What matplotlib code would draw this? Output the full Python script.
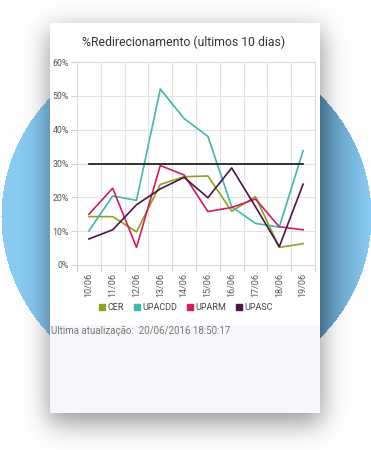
import math
import numpy as np
import matplotlib
matplotlib.use("Agg")
import matplotlib.pyplot as plt
from matplotlib.lines import Line2D

plt.rcParams['font.family'] = ['Roboto', 'DejaVu Sans']

# ---- data ----
dates = ["10/06", "11/06", "12/06", "13/06", "14/06", "15/06", "16/06", "17/06", "18/06", "19/06"]
cer = [14.3, 14.3, 9.8, 23.8, 26.1, 26.3, 15.9, 20.2, 5.2, 6.3]
upacdd = [10.1, 20.4, 19.1, 52.0, 43.3, 38.0, 17.2, 12.3, 11.2, 33.8]
uparm = [15.0, 22.7, 5.2, 29.4, 26.6, 15.8, 17.0, 19.5, 11.3, 10.4]
upasc = [7.7, 10.4, 17.8, 22.5, 25.9, 19.9, 28.7, 17.2, 5.4, 23.9]
meta = 30
series_names = ["CER", "UPACDD", "UPARM", "UPASC"]
series_colors = ["#8fa31c", "#3fb8ae", "#d41b5c", "#4d1448"]
yticks = [0, 10, 20, 30, 40, 50, 60]
title = "%Redirecionamento (ultimos 10 dias)"
footer = "Ultima atualização:  20/06/2016 18:50:17"

W, H = 371, 450
fig = plt.figure(figsize=(W / 100, H / 100), dpi=100)

# ---- background: blue ellipse, card shadow, card ----
yy, xx = np.mgrid[0:H, 0:W].astype(float)
img = np.ones((H, W, 3))
cx, cy, a, b = 186.0, 216.0, 185.0, 176.0
inside = ((xx - cx) / a) ** 2 + ((yy - cy) / b) ** 2 <= 1.0
light = np.array([0.54, 0.80, 0.95])
dark = np.array([0.36, 0.58, 0.72])
t = np.where(xx > 185, np.clip((xx - 320) / 50.0, 0, 1), np.clip((50 - xx) / 50.0, 0, 1))
shade_l = np.where(xx < 185, 0.12, 1.0)
mix = (1 - t) * shade_l
col = light[None, None, :] * (1 - mix[..., None]) + dark[None, None, :] * mix[..., None]
img[inside] = col[inside]

verf = np.vectorize(math.erf)
def box_blur(lo, hi, coords, s):
    return 0.5 * (verf((hi - coords) / (s * 1.414)) - verf((lo - coords) / (s * 1.414)))
sx = box_blur(48, 322, np.arange(W, dtype=float), 12)
sy = box_blur(30, 423, np.arange(H, dtype=float), 13)
shadow = sy[:, None] * sx[None, :] * 0.40
img = img * (1 - shadow[..., None])

card = (xx >= 50) & (xx < 320) & (yy >= 23) & (yy < 413)
img[card] = [1, 1, 1]
lower = card & (yy >= 325)
img[lower] = [0.965, 0.97, 0.985]

bg = fig.add_axes([0, 0, 1, 1])
bg.imshow(img, extent=(0, W, H, 0), aspect='auto', interpolation='bilinear')
bg.set_xlim(0, W)
bg.set_ylim(H, 0)
bg.axis('off')

# ---- chart ----
L, R, T, B = 77, 315, 62, 265
ax = fig.add_axes([L / W, 1 - B / H, (R - L) / W, (B - T) / H])
ax.set_facecolor('none')
x = np.arange(len(dates))
for vals, c in zip([cer, upacdd, uparm, upasc], series_colors):
    ax.plot(x, vals, color=c, lw=1.2, zorder=3)
ax.plot(x, [meta] * len(dates), color='#111111', lw=1.2, zorder=4)

ax.set_xlim(-0.5, len(dates) - 0.5)
ax.set_ylim(0, 60)
ax.set_yticks(yticks)
ax.set_yticklabels([f"{v}%" for v in yticks], fontsize=6.3, color='#555555')
ax.set_xticks(x)
ax.set_xticklabels(dates, rotation=90, fontsize=6.5, color='#555555')
ax.set_xticks(np.arange(-0.5, len(dates)), minor=True)
ax.tick_params(axis='x', which='major', length=0, pad=6)
ax.tick_params(axis='x', which='minor', length=5, color='#d0d0d0', width=0.8)
ax.tick_params(axis='y', length=4, color='#d0d0d0', width=0.8, pad=2)
ax.grid(True, which='minor', axis='x', color='#e2e2e2', lw=0.8)
ax.grid(True, which='major', axis='y', color='#e2e2e2', lw=0.8)
for s in ax.spines.values():
    s.set_color('#dcdcdc')
    s.set_linewidth(0.8)

fig.text(184 / W, 1 - 42 / H, title, ha='center', va='center', fontsize=8.8, color='#333333')

handles = [Line2D([], [], ls='none', marker='s', markersize=4.2, color=c) for c in series_colors]
fig.legend(handles, series_names, loc='center', bbox_to_anchor=(185 / W, 1 - 308 / H),
           ncol=4, frameon=False, fontsize=6.5, handletextpad=0.1, columnspacing=0.9,
           handlelength=1.0, labelcolor='#444444')

fig.text(51 / W, 1 - 331 / H, footer, ha='left', va='center', fontsize=7.0, color='#777777')

fig.savefig("out.png", dpi=100)
